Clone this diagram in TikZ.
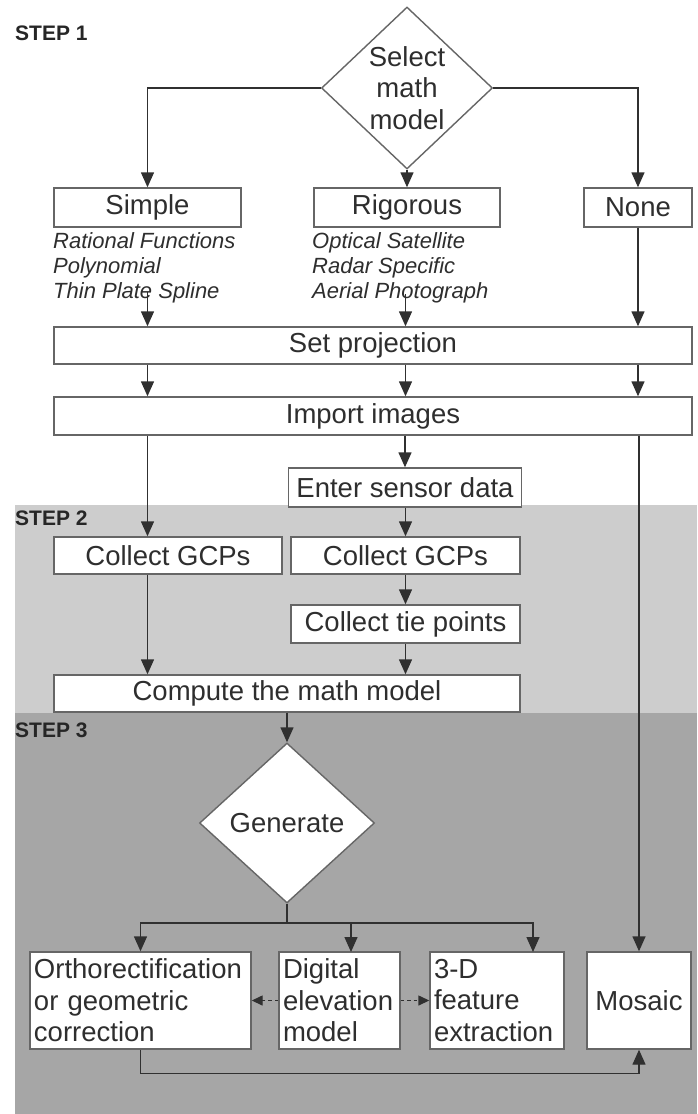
\documentclass[tikz,border=0pt]{standalone}
\usepackage{fontspec}
\setmainfont{Liberation Sans}
\usetikzlibrary{arrows.meta,shapes.geometric}
\definecolor{txt}{HTML}{2E2E2E}
\definecolor{ln}{HTML}{303030}
\definecolor{bd}{HTML}{666666}
\definecolor{lg}{HTML}{CDCDCD}
\definecolor{dg}{HTML}{A6A6A6}
\newcommand{\fsmain}{\fontsize{27.5}{31.5}\selectfont}
\newcommand{\fsital}{\fontsize{22}{25}\selectfont\itshape}
\newcommand{\fsstep}{\fontsize{21}{24}\selectfont\bfseries}
\begin{document}
\begin{tikzpicture}[x=1pt,y=-1pt,
  box/.style={draw=bd, line width=1.4pt, fill=white, inner sep=0pt, text=txt, font=\fsmain},
  mbox/.style={box, align=left, inner xsep=4pt},
  diam/.style={diamond, draw=bd, line width=1.4pt, fill=white, inner sep=0pt},
  dtext/.style={inner sep=0pt, text=txt, font=\fsmain, align=center},
  itxt/.style={inner sep=0pt, text=txt, font=\fsital, align=left, anchor=north west},
  steplbl/.style={inner sep=0pt, text=black!85, font=\fsstep, anchor=west},
  conn/.style={draw=ln, line width=1.4pt},
  arr/.style={conn, -{Triangle[width=13pt,length=15pt]}},
  dasharr/.style={conn, dash pattern=on 3.5pt off 3pt, -{Triangle[width=10pt,length=11pt]}}
]
\useasboundingbox (0,0) rectangle (697,1114);
\fill[white] (0,0) rectangle (697,1114);
% step backgrounds
\fill[lg] (15,505) rectangle (697,713);
\fill[dg] (15,713) rectangle (697,1114);

% step labels
\node[steplbl] (s1) at (15,33) {STEP 1};
\node[steplbl] (s2) at (15,518) {STEP 2};
\node[steplbl] (s3) at (15,730) {STEP 3};

% free ends
\coordinate (sfree) at (147.5,292);
\coordinate (rfree) at (405.5,294);
\coordinate (bar) at (287,923);
\coordinate (demin) at (351,952);
\coordinate (tdin) at (533,952);

% step 1
\node[diam, minimum width=171pt, minimum height=162pt] (sel) at (407,88) {};
\node[dtext] (selt) at (407,88) {Select\\math\\model};
\node[box, minimum width=187pt, minimum height=39pt] (simple) at (147.5,207.5) {Simple};
\node[box, minimum width=186pt, minimum height=39pt] (rig) at (407,207.5) {Rigorous};
\node[box, minimum width=108pt, minimum height=39pt] (none) at (638,207.5) {None};
\node[box, minimum width=638pt, minimum height=37pt] (setp) at (373,345.5) {Set projection};
\draw[arr] (sfree) -- (sfree |- setp.north);
\draw[arr] (rfree) -- (rfree |- setp.north);
\node[itxt] (simt) at (53,232) {Rational Functions\\Polynomial\\Thin Plate Spline};
\node[itxt] (rigt) at (312,232) {Optical Satellite\\Radar Specific\\Aerial Photograph};
\node[box, minimum width=638pt, minimum height=38pt] (imp) at (373,416) {Import images};
\node[box, minimum width=233pt, minimum height=39pt] (ensd) at (405,487.5) {Enter sensor data};

% step 2
\node[box, minimum width=228pt, minimum height=37pt] (gcp1) at (168,555.5) {Collect GCPs};
\node[box, minimum width=229pt, minimum height=37pt] (gcp2) at (405.5,555.5) {Collect GCPs};
\node[box, minimum width=229pt, minimum height=38pt] (tie) at (405.5,624) {Collect tie points};
\node[box, minimum width=466pt, minimum height=37pt] (comp) at (287,693.5) {Compute the math model};

% step 3
\node[diam, minimum width=175pt, minimum height=160pt] (gen) at (287,823) {};
\node[dtext] (gent) at (287,823) {Generate};
\node[mbox, text width=213pt, minimum height=97pt] (ortho) at (140.5,1000.5) {Orthorectification\\or geometric\\correction};
\node[mbox, text width=113pt, minimum height=97pt] (dem) at (339.5,1000.5) {Digital\\elevation\\model};
\node[mbox, text width=126pt, minimum height=97pt] (td) at (497,1000.5) {3-D\\feature\\extraction};
\node[box, minimum width=104pt, minimum height=97pt] (mos) at (639,1000.5) {Mosaic};

% connectors step 1
\draw[arr] (sel.west) -| (simple.north);
\draw[arr] (sel.east) -| (none.north);
\draw[arr] (sel.south) -- (rig.north);
\draw[arr] (none.south) -- (none.south |- setp.north);
\draw[arr] (setp.south -| simple) -- (imp.north -| simple);
\draw[arr] (setp.south -| rfree) -- (imp.north -| rfree);
\draw[arr] (setp.south -| none) -- (imp.north -| none);
\draw[arr] (imp.south -| simple) -- (gcp1.north -| simple);
\draw[arr] (imp.south -| ensd) -- (ensd.north);
\draw[arr] (imp.south -| mos) -- (mos.north);

% connectors step 2
\draw[arr] (ensd.south -| gcp2) -- (gcp2.north);
\draw[arr] (gcp2.south) -- (tie.north);
\draw[arr] (tie.south) -- (tie.south |- comp.north);
\draw[arr] (gcp1.south -| simple) -- (comp.north -| simple);

% connectors step 3
\draw[arr] (comp.south) -- (gen.north);
\draw[conn] (gen.south) -- (bar);
\draw[arr] (bar) -| (ortho.north);
\draw[arr] (bar) -| (tdin);
\draw[arr] (bar -| demin) -- (demin);
\draw[dasharr] (dem.west) -- (ortho.east);
\draw[dasharr] (dem.east) -- (td.west);
\draw[arr] (ortho.south) -- ++(0,24) -| (mos.south);
\end{tikzpicture}
\end{document}
